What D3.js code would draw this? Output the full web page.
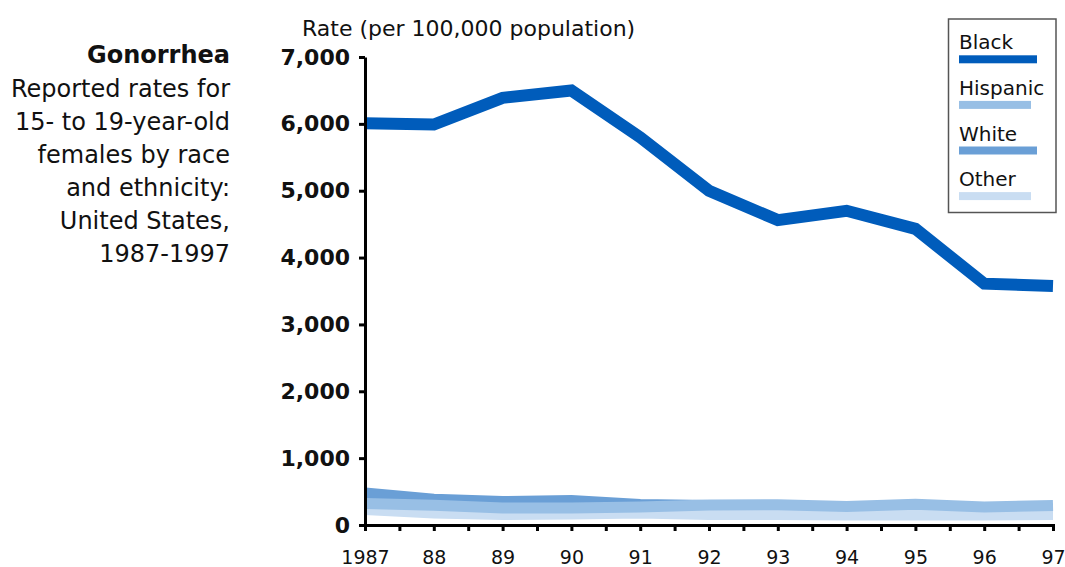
<!DOCTYPE html>
<html>
<head>
<meta charset="utf-8">
<script src="https://cdn.jsdelivr.net/npm/d3@7"></script>
<style>
  html, body { margin: 0; padding: 0; background: #fff; }
  svg { display: block; }
  text { font-family: "DejaVu Sans", sans-serif; fill: #111; }
</style>
</head>
<body>
<svg id="chart" width="1065" height="567"></svg>
<script>
// ---- data ----
const years = [1987, 1988, 1989, 1990, 1991, 1992, 1993, 1994, 1995, 1996, 1997];
const black    = [6010, 5990, 6390, 6500, 5800, 5000, 4560, 4700, 4430, 3610, 3575];
const hispanic = [323, 296, 256, 254, 271, 299, 304, 278, 311, 269, 292];
const white    = [480, 386, 351, 366, 307, 293, 280, 262, 255, 240, 240];
const other    = [232, 181, 157, 166, 181, 157, 157, 151, 151, 151, 157];
const yTicks = [0, 1000, 2000, 3000, 4000, 5000, 6000, 7000];
const xTicks = [1987, 1987.5, 1988, 1988.5, 1989, 1989.5, 1990, 1990.5, 1991, 1991.5, 1992,
                1992.5, 1993, 1993.5, 1994, 1994.5, 1995, 1995.5, 1996, 1996.5, 1997];
const xLabels = ["1987", "88", "89", "90", "91", "92", "93", "94", "95", "96", "97"];
const titleLines = ["Reported rates for", "15- to 19-year-old", "females by race",
                    "and ethnicity:", "United States,", "1987-1997"];
const yTitle = "Rate (per 100,000 population)";

const series = [
  { name: "White",    values: white,    color: "#6a9fd6", width: 11 },
  { name: "Other",    values: other,    color: "#c9ddf2", width: 11 },
  { name: "Hispanic", values: hispanic, color: "#98bfe5", width: 11 },
  { name: "Black",    values: black,    color: "#005cbb", width: 12 }
];
const legendItems = [
  { name: "Black",    color: "#005cbb", len: 78 },
  { name: "Hispanic", color: "#98bfe5", len: 72 },
  { name: "White",    color: "#6a9fd6", len: 78 },
  { name: "Other",    color: "#c9ddf2", len: 72 }
];

// ---- layout ----
const svg = d3.select("#chart");
const x = d3.scaleLinear().domain([1987, 1997]).range([365, 1053]);
const y = d3.scaleLinear().domain([0, 7000]).range([525, 57]);

// title block
svg.append("text").attr("x", 230).attr("y", 63).attr("text-anchor", "end")
  .style("font-size", "24px").style("font-weight", "bold").text("Gonorrhea");
titleLines.forEach((t, i) => {
  svg.append("text").attr("x", 230).attr("y", 96.5 + 33 * i).attr("text-anchor", "end")
    .style("font-size", "24px").text(t);
});

// y title
svg.append("text").attr("x", 302).attr("y", 36).style("font-size", "22px").text(yTitle);

// lines
const line = d3.line().x((d, i) => x(years[i])).y(d => y(d));
svg.append("g").selectAll("path").data(series).join("path")
  .attr("d", d => line(d.values))
  .attr("fill", "none")
  .attr("stroke", d => d.color)
  .attr("stroke-width", d => d.width)
  .attr("stroke-linejoin", "miter")
  .attr("stroke-linecap", "butt");

// y axis
const yAxis = svg.append("g").attr("transform", `translate(${x(1987)},0)`)
  .call(d3.axisLeft(y).tickValues(yTicks).tickSize(6).tickSizeOuter(0)
        .tickPadding(9).tickFormat(d3.format(",")));
yAxis.select(".domain").attr("stroke", "#000").attr("stroke-width", 3);
yAxis.selectAll(".tick line").attr("stroke", "#000").attr("stroke-width", 3);
yAxis.selectAll(".tick text").style("font-size", "22px").style("font-weight", "bold")
  .style("font-family", "'DejaVu Sans', sans-serif").attr("fill", "#111");

// x axis
const xAxis = svg.append("g").attr("transform", `translate(0,${y(0)})`)
  .call(d3.axisBottom(x).tickValues(xTicks).tickSize(6).tickSizeOuter(0)
        .tickFormat(d => Number.isInteger(d) ? xLabels[years.indexOf(d)] : ""));
xAxis.select(".domain").attr("stroke", "#000").attr("stroke-width", 3)
  .attr("stroke-linecap", "square");
xAxis.selectAll(".tick line").attr("stroke", "#000").attr("stroke-width", 3);
xAxis.selectAll(".tick text").attr("y", 39).attr("dy", 0)
  .style("font-size", "19px").style("font-family", "'DejaVu Sans', sans-serif")
  .attr("fill", "#111");

// legend
const lg = svg.append("g");
lg.append("rect").attr("x", 948.5).attr("y", 19).attr("width", 107.5).attr("height", 193.5)
  .attr("fill", "#fff").attr("stroke", "#555").attr("stroke-width", 1.5);
legendItems.forEach((it, i) => {
  const by = 49.3 + 45.6 * i;
  lg.append("text").attr("x", 959).attr("y", by).style("font-size", "20px").text(it.name);
  lg.append("rect").attr("x", 959).attr("y", by + 6).attr("width", it.len).attr("height", 8)
    .attr("fill", it.color);
});
</script>
</body>
</html>
